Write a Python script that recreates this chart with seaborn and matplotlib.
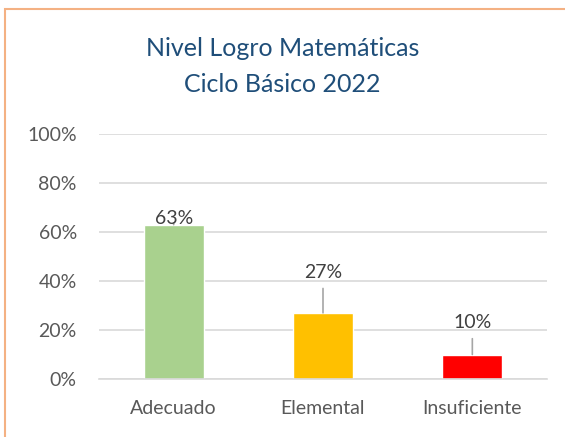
import matplotlib
matplotlib.use("Agg")
import matplotlib.pyplot as plt
from matplotlib.patches import Rectangle
import seaborn as sns
import pandas as pd

categories = ["Adecuado", "Elemental", "Insuficiente"]
values = [0.63, 0.27, 0.10]
labels = ["63%", "27%", "10%"]
colors = ["#A9D18E", "#FFC000", "#FF0000"]
label_heights = [0.62, 0.40, 0.195]
yticks = [0, 0.2, 0.4, 0.6, 0.8, 1.0]
ytick_labels = ["0%", "20%", "40%", "60%", "80%", "100%"]

sns.set_theme(style="white")
plt.rcParams["font.family"] = ["Lato", "DejaVu Sans"]

df = pd.DataFrame({"cat": categories, "val": values})

fig = plt.figure(figsize=(5.65, 4.37), dpi=100)
ax = fig.add_axes([99 / 565, 1 - 379 / 437, 448 / 565, 245 / 437])

sns.barplot(data=df, x="cat", y="val", hue="cat", palette=colors,
            width=0.40, saturation=1, legend=False, ax=ax)

ax.set_ylim(0, 1.0)
ax.set_xlim(-0.5, 2.5)
ax.set_yticks(yticks)
ax.set_yticklabels(ytick_labels)
ax.yaxis.grid(True, color="#D9D9D9", linewidth=1.2)
ax.set_axisbelow(True)
for s in ["top", "right", "left"]:
    ax.spines[s].set_visible(False)
ax.spines["bottom"].set_color("#D9D9D9")
ax.spines["bottom"].set_linewidth(1.2)
ax.set_xlabel("")
ax.set_ylabel("")
ax.tick_params(axis="y", length=0, pad=16, labelsize=14, labelcolor="#595959")
ax.tick_params(axis="x", length=0, pad=15, labelsize=14, labelcolor="#595959")

# minor ticks between categories on the baseline
ax.set_xticks([-0.5, 0.5, 1.5, 2.5], minor=True)
ax.tick_params(axis="x", which="minor", length=7, color="#D9D9D9", width=1.2, direction="out")

for i, (v, lab, h) in enumerate(zip(values, labels, label_heights)):
    ax.annotate(lab, xy=(i, v), xytext=(i, h), ha="center", va="bottom",
                fontsize=14, color="#404040",
                arrowprops=dict(arrowstyle="-", color="#A6A6A6", lw=1.2,
                                shrinkA=3, shrinkB=0))

fig.text(0.5, 1 - 49 / 437, "Nivel Logro Matemáticas", ha="center", va="center",
         fontsize=18, color="#1F4E79")
fig.text(0.5, 1 - 84 / 437, "Ciclo Básico 2022", ha="center", va="center",
         fontsize=18, color="#1F4E79")

fig.patches.append(Rectangle((5 / 565, -0.05), 1.1, 1 - 9 / 437 + 0.05,
                             transform=fig.transFigure, fill=False,
                             edgecolor="#F4B183", linewidth=1.5))

fig.savefig("out.png", dpi=100)
